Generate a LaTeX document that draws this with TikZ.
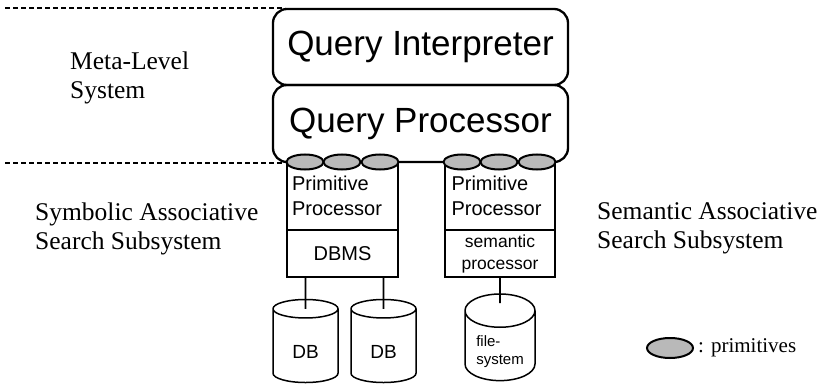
\documentclass[tikz,border=0pt]{standalone}
\usepackage{fontspec}
\setmainfont{Liberation Serif}
\setsansfont{Liberation Sans}
\usetikzlibrary{shapes.geometric}
\newcommand{\sinktext}[1]{\raisebox{-6pt}[\height][\depth]{#1}}

\begin{document}
\begin{tikzpicture}[x=1pt,y=-1pt,
		qbox/.style={draw, line width=2.3pt, rounded corners=14pt, minimum width=295pt, font=\sffamily\fontsize{35}{38}\selectfont},
		pbox/.style={draw, line width=1.8pt, minimum width=111pt, inner sep=0pt, font=\sffamily\fontsize{20}{25}\selectfont},
		prim/.style={ellipse, draw, line width=2pt, fill=gray!55, minimum width=37pt, minimum height=15pt, inner sep=0pt},
		store/.style={cylinder, shape border rotate=90, draw, line width=1.5pt, fill=white, aspect=0.7, inner sep=0pt, minimum width=65pt, minimum height=83pt, font=\sffamily\fontsize{19}{20}\selectfont},
		lbl/.style={anchor=west, align=left, inner sep=0pt, font=\fontsize{25.5}{29}\selectfont},
		wire/.style={line width=1.6pt},
		divider/.style={line width=1.6pt, dash pattern=on 5pt off 3pt}]
	\useasboundingbox (0,0) rectangle (825,385);
	\draw[divider] (5,8) -- (285,8);
	\draw[divider] (5,163) -- (285,163);
	\node[lbl] (meta) at (70,78) {Meta-Level\\System};
	\node[lbl] (symb) at (35,229) {Symbolic Associative\\Search Subsystem};
	\node[lbl] (sema) at (597,228) {Semantic Associative\\Search Subsystem};
	\node[qbox, minimum height=77pt] (qp) at (420.5,123.5) {Query Processor};
	\node[qbox, minimum height=76pt] (qi) at (420.5,47) {Query Interpreter};
	\node[pbox, minimum height=68pt, text width=101pt, align=left] (pp1) at (342.5,196) {Primitive\\Processor};
	\node[pbox, minimum height=47pt] (dbms) at (342.5,253.5) {DBMS};
	\node[pbox, minimum width=110pt, minimum height=68pt, text width=97pt, align=left] (pp2) at (500,196) {Primitive\\Processor};
	\node[pbox, minimum width=110pt, minimum height=47pt, align=center, font=\sffamily\fontsize{17.5}{22}\selectfont] (semp) at (500,253.5) {semantic\\processor};
	\foreach \x [count=\i] in {305,342,380}
		\node[prim] (pl\i) at (\x,162) {};
	\foreach \x [count=\i] in {462,499,537}
		\node[prim] (pr\i) at (\x,162) {};
	\node[store] (db1) at (305.5,346) {\sinktext{DB}};
	\node[store] (db2) at (383.5,346) {\sinktext{DB}};
	\node[store, minimum width=70pt, font=\sffamily\fontsize{15}{18}\selectfont] (fs) at (500,346) {\sinktext{\begin{tabular}{@{}l@{}}file-\\system\end{tabular}}};
	\draw[wire] (dbms.south -| db1.center) -- ([yshift=-10pt]db1.north);
	\draw[wire] (dbms.south -| db2.center) -- ([yshift=-10pt]db2.north);
	\draw[wire] (semp.south -| fs.center) -- ([yshift=-10pt]fs.north);
	\node[prim, minimum width=46pt, minimum height=20pt] (key) at (670,348) {};
	\node[anchor=west, inner sep=0pt, font=\fontsize{21}{24}\selectfont] (keytext) at (698,348) {: primitives};
\end{tikzpicture}
\end{document}
